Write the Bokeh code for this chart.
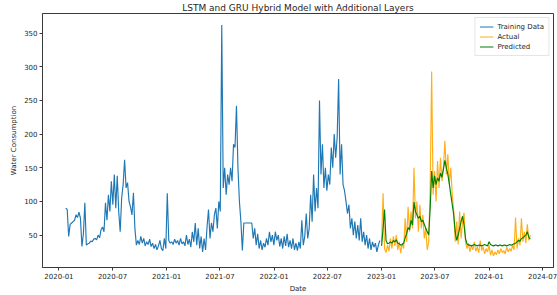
import pandas as pd
from bokeh.plotting import figure
from bokeh.models import Range1d, FixedTicker, DatetimeTickFormatter, Legend, LegendItem
from bokeh.embed import file_html
from bokeh.resources import INLINE

# ---------------- data ----------------
step = "5D"

train_a_start = "2020-01-24"
train_a_values = [
    90, 88, 48, 66, 68, 70, 72, 80, 76, 84,
    75, 33, 52, 98, 35, 37, 38, 41, 40, 44,
    45, 43, 50, 46, 58, 62, 55, 98, 72, 110,
    85, 130, 95, 140, 90, 138, 85, 55, 105, 125,
    162, 120, 128, 100, 92, 80, 113, 60, 35, 42,
    36, 48, 38, 45, 34, 40, 36, 44, 33, 38,
    30, 36, 28, 34, 42, 30, 27, 45, 30, 112,
    42, 38, 40, 36, 44, 38, 42, 35, 45, 37,
    40, 34, 50, 36, 44, 32, 55, 40, 68, 35,
    60, 30, 48, 25, 45, 28, 62, 88, 45, 68,
    55, 80, 90, 60, 100, 85, 362, 120, 150, 110,
    140, 125, 150, 130, 185, 180, 242, 150, 100, 70,
    27, 68,
]

train_b_start = "2021-10-17"
train_b_values = [
    68, 45, 60, 35, 52, 30, 42, 28, 38, 32,
    45, 35, 55, 40, 50, 35, 55, 42, 50, 33,
    45, 30, 48, 34, 52, 32, 42, 30, 45, 28,
    38, 27, 40, 30, 72, 35, 48, 82, 45, 60,
    110, 70, 140, 85, 120, 90, 250, 140, 185, 120,
    150, 116, 140, 125, 180, 150, 200, 165, 195, 282,
    140, 185, 125, 116, 100, 82, 95, 60, 75, 50,
    70, 45, 65, 42, 75, 40, 55, 35, 50, 30,
    45, 28, 40, 32, 38, 25, 35, 42,
]

test_start = "2023-01-01"
actual_values = [
    40, 112, 30, 24, 35, 26, 45, 30, 48, 34,
    50, 28, 40, 23, 38, 30, 75, 40, 92, 55,
    85, 60, 150, 75, 100, 55, 95, 60, 80, 45,
    60, 28, 40, 120, 293, 110, 145, 100, 160, 120,
    165, 130, 150, 190, 140, 170, 125, 150, 110, 86,
    40, 70, 36, 85, 45, 70, 83, 40, 30, 38,
    25, 35, 28, 40, 26, 32, 24, 42, 27, 33,
    22, 30, 25, 35, 20, 28, 19, 25, 21, 28,
    22, 30, 24, 27, 22, 32, 25, 30, 26, 35,
    28, 76, 30, 45, 35, 75, 40, 55, 38, 66,
    42, 50,
]
predicted_values = [
    34, 60, 88, 42, 37, 38, 40, 38, 42, 40,
    43, 38, 37, 35, 36, 38, 46, 52, 61, 58,
    72, 65, 99, 85, 80, 75, 78, 70, 72, 66,
    60, 55, 50, 90, 145, 120, 138, 125, 135, 130,
    142, 136, 148, 161, 150, 140, 126, 110, 95, 80,
    55, 42, 50, 60, 70, 78, 65, 45, 37, 35,
    35, 34, 35, 36, 35, 34, 35, 35, 34, 35,
    36, 35, 34, 40, 36, 35, 34, 35, 35, 34,
    35, 35, 34, 35, 35, 34, 35, 36, 35, 36,
    37, 38, 40, 42, 41, 45, 46, 48, 50, 55,
    47, 44,
]

x_tick_labels = ["2020-01", "2020-07", "2021-01", "2021-07", "2022-01",
                 "2022-07", "2023-01", "2023-07", "2024-01", "2024-07"]
y_ticks = [50, 100, 150, 200, 250, 300, 350]

# ---------------- build ----------------
train_dates = (list(pd.date_range(train_a_start, periods=len(train_a_values), freq=step)) +
               list(pd.date_range(train_b_start, periods=len(train_b_values), freq=step)))
train_values = train_a_values + train_b_values
test_dates = list(pd.date_range(test_start, periods=len(actual_values), freq=step))

all_dates = train_dates + test_dates
xmin, xmax = min(all_dates), max(all_dates)
xpad = (xmax - xmin) * 0.05
all_vals = train_values + actual_values + predicted_values
ymin, ymax = min(all_vals), max(all_vals)
ypad = (ymax - ymin) * 0.05

FONT = "DejaVu Sans"
TXT = "#262626"
FRAME = "#3a3a3a"

p = figure(width=557, height=295, x_axis_type="datetime",
           output_backend="svg", toolbar_location=None,
           x_range=Range1d(xmin - xpad, xmax + xpad),
           y_range=Range1d(ymin - ypad, ymax + ypad),
           min_border_left=42, min_border_right=4,
           min_border_bottom=27, min_border_top=0,
           title="LSTM and GRU Hybrid Model with Additional Layers")

p.title.align = "center"
p.title.text_font = FONT
p.title.text_font_size = "9px"
p.title.text_font_style = "normal"
p.title.text_color = TXT
p.title.standoff = 1
p.title.offset = 0

r_train = p.line(train_dates, train_values, line_color="#1f77b4", line_width=1.15)
r_act = p.line(test_dates, actual_values, line_color="orange", line_width=1.15, line_alpha=0.9)
r_pred = p.line(test_dates, predicted_values, line_color="green", line_width=1.15)

tick_ms = [pd.Timestamp(t + "-01").value // 10**6 for t in x_tick_labels]
p.xaxis.ticker = FixedTicker(ticks=tick_ms)
p.xaxis.formatter = DatetimeTickFormatter(years="%Y-%m", months="%Y-%m", days="%Y-%m",
                                          hours="%Y-%m", minutes="%Y-%m")
p.yaxis.ticker = FixedTicker(ticks=y_ticks)

p.xaxis.axis_label = "Date"
p.yaxis.axis_label = "Water Consumption"

for ax in (p.xaxis[0], p.yaxis[0]):
    ax.major_label_text_font = FONT
    ax.major_label_text_font_size = "7px"
    ax.major_label_text_color = TXT
    ax.axis_label_text_font = FONT
    ax.axis_label_text_font_size = "7px"
    ax.axis_label_text_font_style = "normal"
    ax.axis_label_text_color = TXT
    ax.axis_line_color = FRAME
    ax.major_tick_line_color = FRAME
    ax.major_tick_out = 3
    ax.major_tick_in = 0
    ax.minor_tick_line_color = None
    ax.major_label_standoff = 2
    ax.axis_label_standoff = 3

p.grid.visible = False
p.outline_line_color = FRAME
p.outline_line_width = 1
p.background_fill_color = "white"
p.border_fill_color = "white"

legend = Legend(items=[LegendItem(label="Training Data", renderers=[r_train]),
                       LegendItem(label="Actual", renderers=[r_act]),
                       LegendItem(label="Predicted", renderers=[r_pred])],
                location="top_right")
legend.label_text_font = FONT
legend.label_text_font_size = "7px"
legend.label_text_color = TXT
legend.label_height = 9
legend.glyph_height = 9
legend.glyph_width = 14
legend.label_standoff = 4
legend.spacing = 1
legend.padding = 4
legend.margin = 4
legend.border_line_color = "#cccccc"
legend.border_line_width = 1
legend.background_fill_alpha = 0.85
p.add_layout(legend)

open("out.html", "w").write(file_html(p, INLINE))
